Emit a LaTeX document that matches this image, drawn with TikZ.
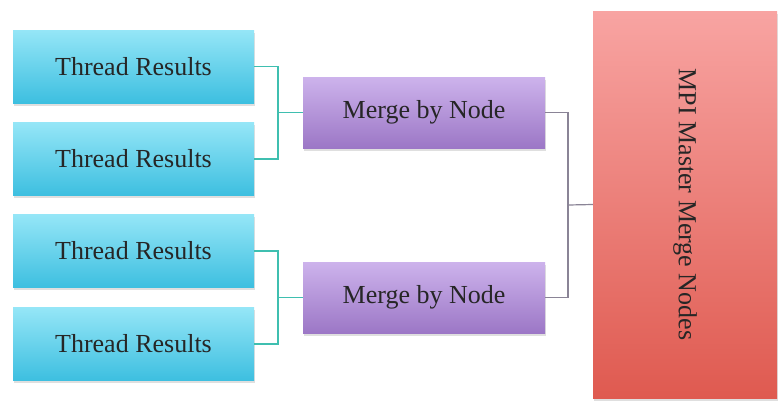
\documentclass[tikz,border=0pt]{standalone}
\usepackage{fontspec}
\setmainfont{Liberation Serif}
\usetikzlibrary{shadows}
\definecolor{cyanT}{HTML}{95E6F7}
\definecolor{cyanB}{HTML}{3DBFE0}
\definecolor{purT}{HTML}{CDB3EC}
\definecolor{purB}{HTML}{9C77C6}
\definecolor{redT}{HTML}{F8A4A2}
\definecolor{redB}{HTML}{DF5A50}
\definecolor{tealline}{HTML}{3FBFB0}
\definecolor{grayline}{HTML}{8A8496}
\begin{document}
\begin{tikzpicture}[x=1pt,y=-1pt,
  box/.style={inner sep=0pt, font=\fontsize{26}{30}\selectfont, text=black!85,
    drop shadow={opacity=0.25, shadow xshift=1pt, shadow yshift=-2.5pt}},
  thread/.style={box, minimum width=241pt, minimum height=73pt, top color=cyanT, bottom color=cyanB},
  merge/.style={box, minimum width=242pt, minimum height=71pt, top color=purT, bottom color=purB},
  master/.style={box, minimum width=184pt, minimum height=387pt, top color=redT, bottom color=redB},
  tline/.style={draw=tealline, line width=1.2pt},
  gline/.style={draw=grayline, line width=1.2pt}]
\useasboundingbox (0,0) rectangle (779,400);
\fill[white] (0,0) rectangle (779,400);
\node[thread] (T1) at (133.5,66.5) {Thread Results};
\node[thread] (T2) at (133.5,159) {Thread Results};
\node[thread] (T3) at (133.5,251) {Thread Results};
\node[thread] (T4) at (133.5,344) {Thread Results};
\node[merge] (M1) at (424,112.5) {Merge by Node};
\node[merge] (M2) at (424,297.5) {Merge by Node};
\node[master] (B) at (685,204.5) {};
\node[rotate=-90, font=\fontsize{26}{30}\selectfont, text=black!85, inner sep=0pt] (BT) at (B.center) {MPI Master Merge Nodes};
\coordinate (j1) at (278,112.5);
\coordinate (j2) at (278,297.5);
\coordinate (j3) at (568,205);
\draw[tline] (T1.east) -| (j1) |- (T2.east);
\draw[tline] (j1) -- (M1.west);
\draw[tline] (T3.east) -| (j2) |- (T4.east);
\draw[tline] (j2) -- (M2.west);
\draw[gline] (M1.east) -| (j3) |- (M2.east);
\draw[gline] (j3) -- (B.west);
\end{tikzpicture}
\end{document}
